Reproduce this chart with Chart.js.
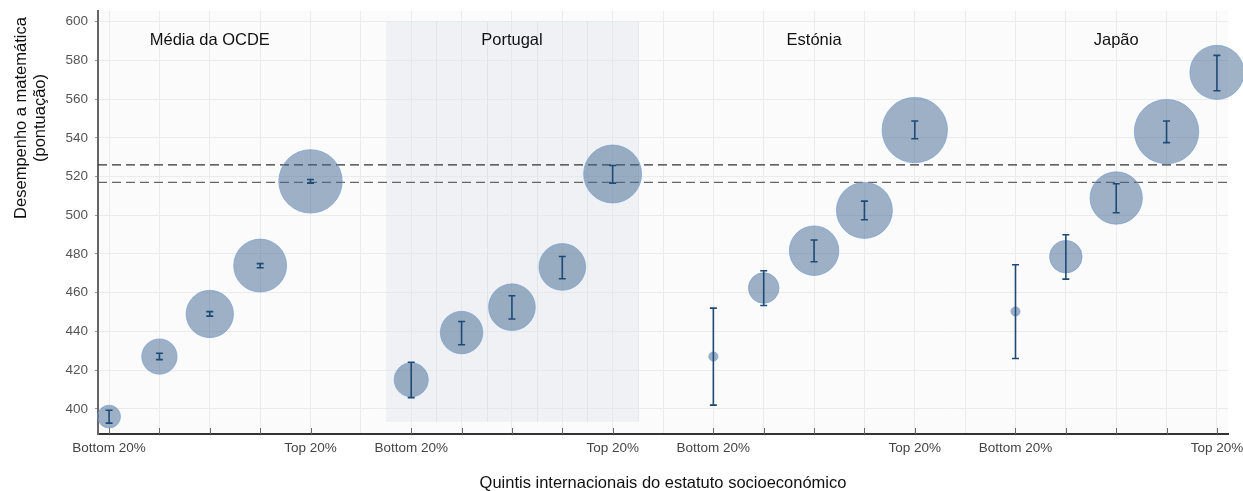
<!DOCTYPE html>
<html>
<head>
<meta charset="utf-8">
<script src="https://cdn.jsdelivr.net/npm/chart.js@4.4.1/dist/chart.umd.min.js"></script>
<style>
  html, body { margin: 0; padding: 0; background: #fff; }
  #wrap { width: 1243px; height: 491px; position: relative; }
</style>
</head>
<body>
<div id="wrap"><canvas id="chart"></canvas></div>
<script>
// categories
const groups = ['Média da OCDE', 'Portugal', 'Estónia', 'Japão']
const quintiles = ['Bottom 20%', '', '', '', 'Top 20%']
const yTicks = [400, 420, 440, 460, 480, 500, 520, 540, 560, 580, 600]
const yTitle = ['Desempenho a matemática', '(pontuação)']
const xTitle = 'Quintis internacionais do estatuto socioeconómico'

// mean maths score per quintile, with confidence interval
const oecdScore = [396, 427, 449, 474, 517.5]
const oecdLow = [392.6, 425.4, 447.9, 472.9, 516.6]
const oecdHigh = [399.3, 428.7, 450.2, 475.0, 518.5]
const oecdShare = [2.5, 6.0, 10.8, 13.5, 19.4]

const ptScore = [415, 439.4, 452.5, 473.3, 521.3]
const ptLow = [405.8, 433.1, 446.4, 467.2, 516.6]
const ptHigh = [424.1, 445.1, 458.4, 478.7, 525.7]
const ptShare = [5.6, 8.7, 10.5, 10.5, 16.2]

const eeScore = [427, 462.4, 481.7, 502.5, 544]
const eeLow = [401.9, 453.4, 476.0, 497.7, 539.5]
const eeHigh = [452.0, 471.3, 487.2, 507.3, 548.7]
const eeShare = [0.4, 4.5, 11.8, 15.1, 20.6]

const jpScore = [450.3, 478.6, 508.9, 543.2, 573.8]
const jpLow = [426.0, 467.0, 501.3, 537.5, 564.3]
const jpHigh = [474.4, 489.9, 516.3, 548.7, 582.6]
const jpShare = [0.4, 5.1, 13.2, 20.0, 14.1]

// dashed reference lines
const refLines = [526, 517]

const scores = [oecdScore, ptScore, eeScore, jpScore]
const lows = [oecdLow, ptLow, eeLow, jpLow]
const highs = [oecdHigh, ptHigh, eeHigh, jpHigh]
const shares = [oecdShare, ptShare, eeShare, jpShare]

const FONT = "'Liberation Sans', Arial, Helvetica, sans-serif"
const slot = (g, q) => g * 6 + q

const points = []
const bars = []
groups.forEach((g, gi) => {
  quintiles.forEach((q, qi) => {
    points.push({ x: slot(gi, qi), y: scores[gi][qi], r: 7.2 * Math.sqrt(shares[gi][qi]) })
    bars.push({ x: slot(gi, qi), lo: lows[gi][qi], hi: highs[gi][qi] })
  })
})

const decorPlugin = {
  id: 'decor',
  beforeDraw (chart) {
    const { ctx, chartArea: a } = chart
    ctx.save()
    ctx.fillStyle = '#fbfbfc'
    ctx.fillRect(a.left, a.top, a.right - a.left, a.bottom - a.top)
    ctx.restore()
  },
  beforeDatasetsDraw (chart) {
    const { ctx, chartArea: a, scales: { x, y } } = chart
    ctx.save()
    // Portugal panel
    const l = x.getPixelForValue(slot(1, 0) - 0.5)
    const r = x.getPixelForValue(slot(1, 4) + 0.5)
    const t = y.getPixelForValue(600)
    const b = y.getPixelForValue(393.3)
    ctx.fillStyle = 'rgba(225, 229, 236, 0.45)'
    ctx.fillRect(l, t, r - l, b - t)
    ctx.strokeStyle = 'rgba(220, 222, 228, 0.7)'
    ctx.lineWidth = 1
    for (let k = 0; k <= 4; k++) {
      const px = Math.round(x.getPixelForValue(slot(1, k) + 0.5)) + 0.5
      ctx.beginPath(); ctx.moveTo(px, t); ctx.lineTo(px, b); ctx.stroke()
    }
    // inward tick marks at each quintile
    ctx.strokeStyle = '#666'
    ctx.lineWidth = 1
    groups.forEach((g, gi) => quintiles.forEach((q, qi) => {
      const px = Math.round(x.getPixelForValue(slot(gi, qi))) + 0.5
      ctx.beginPath(); ctx.moveTo(px, a.bottom); ctx.lineTo(px, a.bottom - 6); ctx.stroke()
    }))
    // reference lines
    ctx.setLineDash([9, 5])
    ctx.lineWidth = 1.2
    refLines.forEach((v, i) => {
      const py = y.getPixelForValue(v)
      ctx.strokeStyle = i === 0 ? '#333' : '#666'
      ctx.beginPath(); ctx.moveTo(a.left, py); ctx.lineTo(a.right, py); ctx.stroke()
    })
    ctx.setLineDash([])
    // group labels
    ctx.fillStyle = '#111'
    ctx.font = '16.5px ' + FONT
    ctx.textAlign = 'center'
    ctx.textBaseline = 'middle'
    groups.forEach((g, gi) => {
      ctx.fillText(g, x.getPixelForValue(slot(gi, 2)), y.getPixelForValue(590.2))
    })
    ctx.restore()
  },
  afterDatasetsDraw (chart) {
    const { ctx, scales: { x, y } } = chart
    ctx.save()
    ctx.strokeStyle = '#1f4a75'
    ctx.lineWidth = 1.6
    bars.forEach(e => {
      const px = x.getPixelForValue(e.x)
      const top = y.getPixelForValue(e.hi)
      const bot = y.getPixelForValue(e.lo)
      ctx.beginPath()
      ctx.moveTo(px, top); ctx.lineTo(px, bot)
      ctx.moveTo(px - 3.5, top); ctx.lineTo(px + 3.5, top)
      ctx.moveTo(px - 3.5, bot); ctx.lineTo(px + 3.5, bot)
      ctx.stroke()
    })
    ctx.restore()
  },
  afterDraw (chart) {
    const { ctx, chartArea: a } = chart
    ctx.save()
    ctx.fillStyle = '#111'
    ctx.font = '16.5px ' + FONT
    ctx.textAlign = 'center'
    ctx.textBaseline = 'middle'
    ctx.fillText(xTitle, (a.left + a.right) / 2, 483)
    ctx.translate(0, 118)
    ctx.rotate(-Math.PI / 2)
    ctx.fillText(yTitle[0], 0, 21)
    ctx.fillText(yTitle[1], 0, 40)
    ctx.restore()
  }
}

const noPad = (s) => { s.paddingTop = 0; s.paddingBottom = 0; s.paddingLeft = 0; s.paddingRight = 0 }

new Chart(document.getElementById('chart'), {
  type: 'bubble',
  data: {
    datasets: [{
      data: points,
      backgroundColor: 'rgba(64, 101, 142, 0.5)',
      borderColor: 'rgba(120, 160, 210, 0.7)',
      borderWidth: 1,
      hoverRadius: 0,
      clip: false
    }]
  },
  options: {
    responsive: true,
    maintainAspectRatio: false,
    animation: false,
    layout: { autoPadding: false, padding: { left: 0, right: 15, top: 11, bottom: 0 } },
    plugins: { legend: { display: false }, tooltip: { enabled: false } },
    scales: {
      x: {
        type: 'linear',
        min: -0.22,
        max: 22.22,
        afterBuildTicks: (s) => {
          s.ticks = []
          for (let v = 0; v <= slot(3, 4); v++) s.ticks.push({ value: v })
        },
        afterFit: (s) => { s.height = 57; noPad(s) },
        grid: { color: '#ebebeb', lineWidth: 1, drawTicks: false },
        border: { color: '#333', width: 2 },
        ticks: {
          autoSkip: false,
          maxRotation: 0,
          padding: 6,
          color: '#444',
          font: { family: FONT, size: 13.5 },
          callback: (v) => {
            const q = v % 6
            return q < 5 ? quintiles[q] : ''
          }
        }
      },
      y: {
        min: 387,
        max: 605.5,
        afterBuildTicks: (s) => { s.ticks = yTicks.map(v => ({ value: v })) },
        afterFit: (s) => { s.width = 98; noPad(s) },
        grid: { color: '#ebebeb', lineWidth: 1, tickLength: 3, tickColor: '#999' },
        border: { color: '#666', width: 2 },
        ticks: {
          padding: 7,
          color: '#555',
          font: { family: FONT, size: 13.5 }
        }
      }
    }
  },
  plugins: [decorPlugin]
})
</script>
</body>
</html>
